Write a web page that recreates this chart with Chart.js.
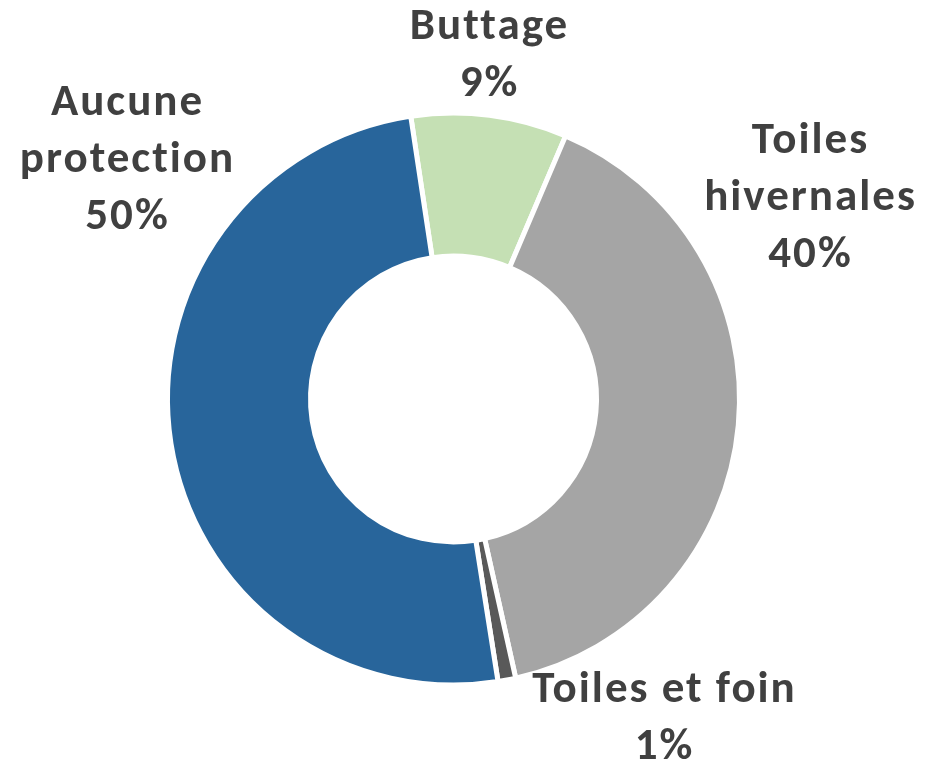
<!DOCTYPE html>
<html>
<head>
<meta charset="utf-8">
<script src="https://cdn.jsdelivr.net/npm/chart.js@4"></script>
<style>
  html, body { margin: 0; padding: 0; background: #ffffff; }
  #wrap { width: 943px; height: 763px; }
</style>
</head>
<body>
<div id="wrap"><canvas id="chart" width="943" height="763"></canvas></div>
<script>
// data (share of respondents, %)
const categories = ["Buttage", "Toiles hivernales", "Toiles et foin", "Aucune protection"];
const shares = [8.8, 40.1, 1.0, 50.1];
// label text, broken on lines as in the picture
const labelLines = [["Buttage"], ["Toiles", "hivernales"], ["Toiles et foin"], ["Aucune", "protection"]];

const colors = ["#C5E0B4", "#A5A5A5", "#595959", "#28659B"];

// where each label block sits, relative to the ring centre (px): centre x, first baseline
const labelAnchors = [
  { dx: 35, dy: -360 },
  { dx: 356, dy: -246 },
  { dx: 210, dy: 303 },
  { dx: -327, dy: -284 }
];

const outsideLabels = {
  id: "outsideLabels",
  afterDatasetsDraw(chart) {
    const ctx = chart.ctx;
    const arcs = chart.getDatasetMeta(0).data;
    if (!arcs.length) return;
    const cx = arcs[0].x, cy = arcs[0].y;
    const data = chart.data.datasets[0].data;
    ctx.save();
    ctx.fillStyle = "#404040";
    ctx.font = "bold 45px Carlito, Lato, sans-serif";
    ctx.letterSpacing = "2px"; // Lato is narrower than the original face
    ctx.textAlign = "center";
    ctx.textBaseline = "alphabetic";
    const lineH = 57;
    data.forEach((v, i) => {
      const lines = labelLines[i].concat([Math.round(v) + "%"]);
      const a = labelAnchors[i];
      lines.forEach((t, k) => {
        ctx.fillText(t, cx + a.dx + 1, cy + a.dy + k * lineH);
      });
    });
    ctx.restore();
  }
};

new Chart(document.getElementById("chart").getContext("2d"), {
  type: "doughnut",
  data: {
    labels: categories,
    datasets: [{
      data: shares,
      backgroundColor: colors,
      borderColor: "#ffffff",
      borderWidth: 5,
      hoverOffset: 0
    }]
  },
  options: {
    responsive: false,
    animation: false,
    rotation: -8.6,
    cutout: "50%",
    radius: 286,
    layout: { padding: { left: 167.5, right: 203.5, top: 113, bottom: 78 } },
    plugins: {
      legend: { display: false },
      tooltip: { enabled: false }
    }
  },
  plugins: [outsideLabels]
});
</script>
</body>
</html>
